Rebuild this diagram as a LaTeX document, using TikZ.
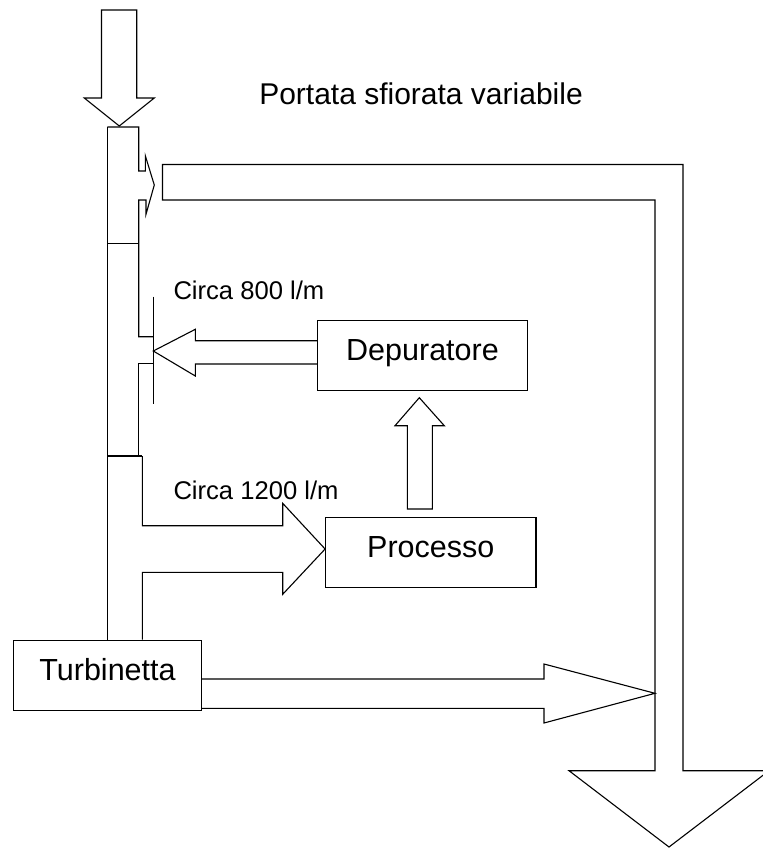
\documentclass[tikz,border=0pt]{standalone}
\usepackage{fontspec}
\setmainfont{Liberation Sans}
\usetikzlibrary{positioning, calc}

\begin{document}
\begin{tikzpicture}[
  x=1pt, y=-1pt,
  box/.style={draw, line width=1.1pt, minimum height=70pt, inner sep=0pt, text height=22pt, text depth=12pt, font=\fontsize{30.5}{36}\selectfont},
  lbl/.style={inner sep=0pt, anchor=base west, font=\fontsize{25.6}{30}\selectfont},
  flow/.style={draw, line width=1.1pt, line join=miter, fill=white}
]
  \clip (0,0) rectangle (763,849);

  % boxes
  \node[box, minimum width=188pt] (turb) at (107.5,675.2) {Turbinetta};
  \node[box, minimum width=210.4pt] (dep) at (422.5,355.3) {Depuratore};
  \node[box, minimum width=210.3pt, below=126pt of dep, xshift=8.3pt] (proc) {Processo};

  % labels
  \node[inner sep=0pt, anchor=base, font=\fontsize{30}{36}\selectfont] (title) at (421,104) {Portata sfiorata variabile};
  \node[lbl] (q800) at (173.3,299) {Circa 800 l/m};
  \node[lbl] (q1200) at (173.3,499) {Circa 1200 l/m};

  % inlet
  \draw[flow] (101.5,10) -- (136.7,10) -- (136.7,98) -- (154.3,98) -- (119.3,126) -- (84.3,98) -- (101.5,98) -- cycle;

  % overflow channel
  \draw[flow] (162.5,164.5) -- (683,164.5) -- (683,770.7) -- (769,770.7) -- (669,847)
    -- (569,770.7) -- (655,770.7) -- (655,200) -- (162.5,200) -- cycle;

  % pipe
  \draw[line width=1.1pt, line join=miter] (107.3,127) -- (turb.north -| 107.3,0);
  \draw[line width=1.1pt, line join=miter] (107.3,127) -- (138.7,127) -- (138.7,171) -- (145.3,171) -- (145.3,155.7)
    -- (154.3,185) -- (146,214.3) -- (146,200) -- (138.7,200) -- (138.7,336.7) -- (153.3,336.7);
  \draw[line width=1.1pt] (107.3,243.3) -- (138.7,243.3);
  \draw[line width=1.1pt] (153.3,296.7) -- (153.3,404);
  \draw[line width=1.1pt, line join=miter] (153.3,363.3) -- (138.7,363.3) -- (138.7,456);
  \draw[line width=1.1pt] (107.3,456) -- (142.3,456);
  \draw[line width=1.1pt, line join=miter] (142.3,456) -- (142.3,525.7) -- (282.7,525.7) -- (282.7,503.3)
    -- (proc.west |- 0,549) -- (282.7,594.3) -- (282.7,572.3) -- (142.3,572.3) -- (turb.north -| 142.3,0);

  % return from depuratore
  \draw[line width=1.1pt, line join=miter] (dep.west |- 0,340.7) -- (195.3,340.7) -- (195.3,329.3) -- (153.3,351)
    -- (195.3,376) -- (195.3,364) -- (dep.west |- 0,364);

  % processo to depuratore
  \draw[flow] (407.3,509) -- (407.3,425.7) -- (395,425.7) -- (419.3,397.7) -- (444.3,425.7) -- (432.3,425.7) -- (432.3,509) -- cycle;

  % turbinetta to channel
  \draw[line width=1.1pt, line join=miter] (turb.east |- 0,679) -- (544,679) -- (544,664) -- (655,693.3)
    -- (544,723) -- (544,708.3) -- (turb.east |- 0,708.3);
\end{tikzpicture}
\end{document}
